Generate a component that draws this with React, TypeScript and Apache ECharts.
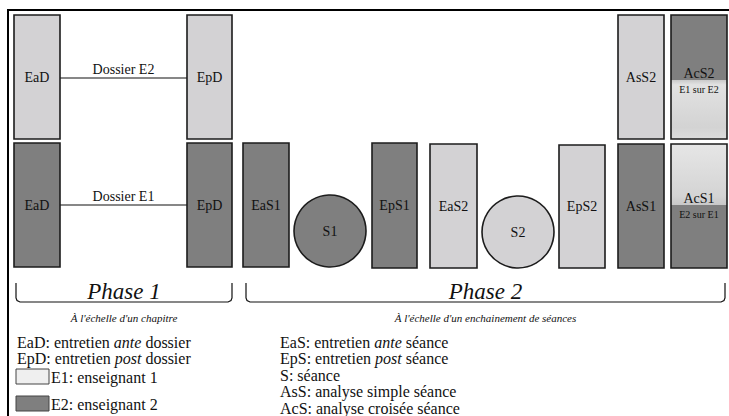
import { useEffect, useRef } from "react";
import * as echarts from "echarts";

const SERIF = "Liberation Serif";
const LIGHT = "#d3d2d4";
const DARK = "#7f7f7f";
const EDGE = "#1c1c1c";
const INK = "#111111";
const LEG = 16;

// Interview / analysis steps (diagram units = page pixels, mapped by hidden axes)
const boxLabels = ["EaD", "EpD", "EaD", "EpD", "EaS1", "EpS1", "EaS2", "EpS2", "AsS2", "AsS1"];
const boxTeacher = ["E2", "E2", "E1", "E1", "E1", "E1", "E2", "E2", "E2", "E1"];
const boxStart = [14, 187, 14, 187, 243, 372, 430, 559, 618, 618];
const boxEnd = [60, 232, 60, 232, 289, 417, 477, 605, 664, 664];
const boxTop = [15, 15, 143, 143, 143, 143, 144, 145, 15, 144];
const boxBottom = [139, 139, 267, 267, 267, 268, 268, 268, 139, 268];

// Cross analyses
const crossLabels = ["AcS2", "AcS1"];
const crossSub = ["E1 sur E2", "E2 sur E1"];
const crossDarkOnTop = [true, false];
const crossStart = [671, 671];
const crossEnd = [727, 727];
const crossTop = [15, 144];
const crossBottom = [139, 268];
const crossSplit = [80, 205];

// Sessions
const sessionLabels = ["S1", "S2"];
const sessionTeacher = ["E1", "E2"];
const sessionX = [330, 518];
const sessionY = [231, 232];
const sessionR = [36, 36];

// Dossier links
const linkLabels = ["Dossier E2", "Dossier E1"];
const linkFrom = [60, 60];
const linkTo = [187, 187];
const linkY = [78, 205];

// Phases
const phaseLabels = ["Phase 1", "Phase 2"];
const phaseSub = ["À l'échelle d'un chapitre", "À l'échelle d'un enchainement de séances"];
const phaseFrom = [16, 246];
const phaseTo = [232, 725];

// Legends
const legendLeft = ["EaD: entretien {i|ante} dossier", "EpD: entretien {i|post} dossier"];
const legendTeachers = ["E1: enseignant 1", "E2: enseignant 2"];
const legendRight = [
  "EaS: entretien {i|ante} séance",
  "EpS: entretien {i|post} séance",
  "S: séance",
  "AsS: analyse simple séance",
  "AcS: analyse croisée séance",
];

const richItalic = {
  i: { fontStyle: "italic", fontFamily: SERIF, fontSize: LEG, fill: INK },
};

export default function App() {
  const ref = useRef<HTMLDivElement>(null);
  useEffect(() => {
    const chart = echarts.init(ref.current!, null, { renderer: "svg" });

    const lightGrad = (flip: boolean) =>
      new echarts.graphic.LinearGradient(0, 0, 0, 1, flip
        ? [
            { offset: 0, color: "#e6e6e6" },
            { offset: 0.85, color: "#d4d4d4" },
            { offset: 1, color: "#c8c8c8" },
          ]
        : [
            { offset: 0, color: "#c9c9c9" },
            { offset: 0.08, color: "#e2e2e2" },
            { offset: 0.8, color: "#d3d3d3" },
            { offset: 1, color: "#dcdcdc" },
          ]);

    const txt = (text: string, x: number, y: number, size: number, italic = false) => ({
      type: "text",
      style: {
        text, x, y, align: "center", verticalAlign: "middle",
        fontSize: size, fontFamily: SERIF, fontStyle: italic ? "italic" : "normal", fill: INK,
      },
    });

    const option: any = {
      animation: false,
      backgroundColor: "#ffffff",
      textStyle: { fontFamily: SERIF },
      grid: { left: 0, right: 0, top: 0, bottom: 0 },
      xAxis: { type: "value", min: 0, max: 729, show: false },
      yAxis: { type: "value", min: 0, max: 416, inverse: true, show: false },
      series: [
        {
          type: "custom",
          name: "links",
          silent: true,
          clip: false,
          data: linkLabels.map((_, i) => [linkFrom[i], linkTo[i], linkY[i], i]),
          renderItem: (_p: any, api: any) => {
            const i = api.value(3);
            const a = api.coord([api.value(0), api.value(2)]);
            const b = api.coord([api.value(1), api.value(2)]);
            return {
              type: "group",
              children: [
                { type: "line", shape: { x1: a[0], y1: a[1], x2: b[0], y2: b[1] }, style: { stroke: INK, lineWidth: 1.2 } },
                txt(linkLabels[i], (a[0] + b[0]) / 2, a[1] - 9, 14),
              ],
            };
          },
        },
        {
          type: "custom",
          name: "boxes",
          silent: true,
          clip: false,
          data: boxLabels.map((_, i) => [boxStart[i], boxEnd[i], boxTop[i], boxBottom[i], i]),
          renderItem: (_p: any, api: any) => {
            const i = api.value(4);
            const a = api.coord([api.value(0), api.value(2)]);
            const b = api.coord([api.value(1), api.value(3)]);
            return {
              type: "group",
              children: [
                {
                  type: "rect",
                  shape: { x: a[0], y: a[1], width: b[0] - a[0], height: b[1] - a[1] },
                  style: { fill: boxTeacher[i] === "E1" ? DARK : LIGHT, stroke: EDGE, lineWidth: 1.6 },
                },
                txt(boxLabels[i], (a[0] + b[0]) / 2, (a[1] + b[1]) / 2, 14),
              ],
            };
          },
        },
        {
          type: "custom",
          name: "cross",
          silent: true,
          clip: false,
          data: crossLabels.map((_, i) => [crossStart[i], crossEnd[i], crossTop[i], crossBottom[i], crossSplit[i], i]),
          renderItem: (_p: any, api: any) => {
            const i = api.value(5);
            const a = api.coord([api.value(0), api.value(2)]);
            const b = api.coord([api.value(1), api.value(3)]);
            const s = api.coord([api.value(0), api.value(4)])[1];
            const w = b[0] - a[0];
            const darkTop = crossDarkOnTop[i];
            return {
              type: "group",
              children: [
                {
                  type: "rect",
                  shape: { x: a[0], y: a[1], width: w, height: s - a[1] },
                  style: { fill: darkTop ? DARK : lightGrad(true) },
                },
                {
                  type: "rect",
                  shape: { x: a[0], y: s, width: w, height: b[1] - s },
                  style: { fill: darkTop ? lightGrad(false) : DARK },
                },
                {
                  type: "rect",
                  shape: { x: a[0], y: a[1], width: w, height: b[1] - a[1] },
                  style: { fill: "none", stroke: EDGE, lineWidth: 1.6 },
                },
                txt(crossLabels[i], a[0] + w / 2, s - 7, 14),
                txt(crossSub[i], a[0] + w / 2, s + 9, 10),
              ],
            };
          },
        },
        {
          type: "custom",
          name: "sessions",
          silent: true,
          clip: false,
          data: sessionLabels.map((_, i) => [sessionX[i], sessionY[i], sessionR[i], i]),
          renderItem: (_p: any, api: any) => {
            const i = api.value(3);
            const c = api.coord([api.value(0), api.value(1)]);
            const r = api.size([api.value(2), 0])[0];
            return {
              type: "group",
              children: [
                {
                  type: "circle",
                  shape: { cx: c[0], cy: c[1], r },
                  style: { fill: sessionTeacher[i] === "E1" ? DARK : LIGHT, stroke: EDGE, lineWidth: 1.6 },
                },
                txt(sessionLabels[i], c[0], c[1], 14),
              ],
            };
          },
        },
        {
          type: "custom",
          name: "phases",
          silent: true,
          clip: false,
          data: phaseLabels.map((_, i) => [phaseFrom[i], phaseTo[i], i]),
          renderItem: (_p: any, api: any) => {
            const i = api.value(2);
            const a = api.coord([api.value(0), 283]);
            const b = api.coord([api.value(1), 302]);
            const x0 = a[0], x1 = b[0], yT = a[1], yB = b[1];
            return {
              type: "group",
              children: [
                {
                  type: "polyline",
                  shape: {
                    points: [
                      [x0, yT], [x0, yB - 4], [x0 + 1, yB - 1.5], [x0 + 4, yB],
                      [x1 - 4, yB], [x1 - 1, yB - 1.5], [x1, yB - 4], [x1, yT],
                    ],
                  },
                  style: { fill: "none", stroke: INK, lineWidth: 1.2 },
                },
                txt(phaseLabels[i], (x0 + x1) / 2, yB - 11, 23, true),
                txt(phaseSub[i], (x0 + x1) / 2, yB + 16, 11, true),
              ],
            };
          },
        },
      ],
      graphic: [
        {
          type: "polyline",
          silent: true,
          shape: { points: [[8, 416], [8, 10], [729, 10]] },
          style: { fill: "none", stroke: "#000", lineWidth: 2 },
        },
        ...legendLeft.map((t, i) => ({
          type: "text",
          silent: true,
          x: 17,
          y: 342 + i * 16,
          style: { text: t, rich: richItalic, fontSize: LEG, fontFamily: SERIF, fill: INK, verticalAlign: "middle" },
        })),
        ...legendTeachers.map((t, i) => ({
          type: "rect",
          silent: true,
          shape: { x: 16, y: 369 + i * 27, width: 33, height: 15 },
          style: { fill: i === 0 ? "#efefef" : DARK, stroke: "#444", lineWidth: 1 },
        })),
        ...legendTeachers.map((t, i) => ({
          type: "text",
          silent: true,
          x: 51,
          y: 377 + i * 27,
          style: { text: t, fontSize: LEG, fontFamily: SERIF, fill: INK, verticalAlign: "middle" },
        })),
        ...legendRight.map((t, i) => ({
          type: "text",
          silent: true,
          x: 280,
          y: 342 + i * 16.5,
          style: { text: t, rich: richItalic, fontSize: LEG, fontFamily: SERIF, fill: INK, verticalAlign: "middle" },
        })),
      ],
    };

    chart.setOption(option);
    return () => chart.dispose();
  }, []);

  return (
    <div
      ref={ref}
      style={{ position: "absolute", left: 0, top: 0, width: 729, height: 416, background: "#fff" }}
    />
  );
}
